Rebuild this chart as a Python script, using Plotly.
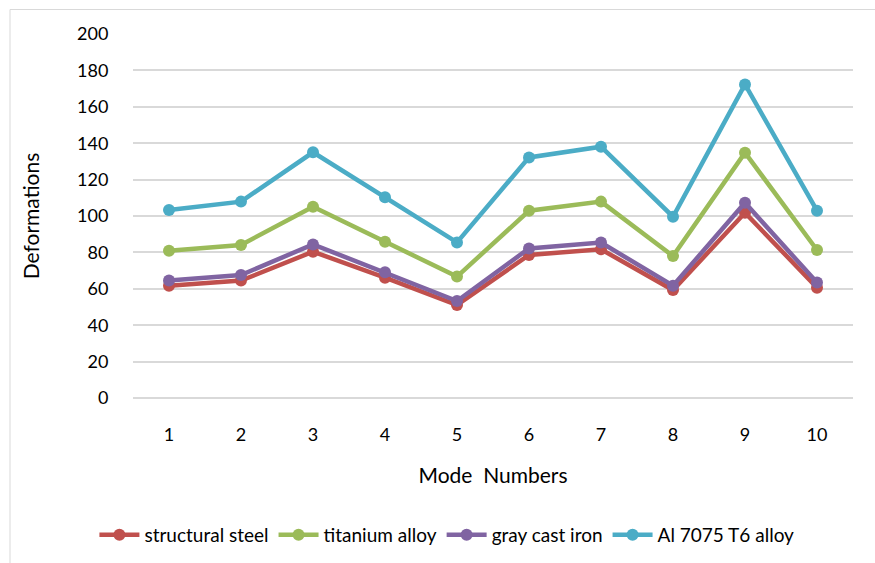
import plotly.graph_objects as go

# Mode numbers on the x axis
modes = [1, 2, 3, 4, 5, 6, 7, 8, 9, 10]

# Deformation values per material
structural_steel = [61.7, 64.5, 80.4, 66.1, 51.1, 78.6, 81.7, 59.3, 101.8, 60.6]
titanium_alloy = [80.9, 84.1, 105.1, 85.9, 66.7, 102.9, 107.9, 78.0, 134.8, 81.3]
gray_cast_iron = [64.5, 67.6, 84.4, 69.1, 53.3, 82.2, 85.4, 61.7, 107.3, 63.4]
al_7075_t6 = [103.3, 107.9, 135.0, 110.3, 85.5, 132.2, 138.1, 99.6, 172.3, 102.9]

series = [
    ("structural steel", structural_steel, "#C0504D"),
    ("titanium alloy", titanium_alloy, "#9BBB59"),
    ("gray cast iron", gray_cast_iron, "#8064A2"),
    ("Al 7075 T6 alloy", al_7075_t6, "#4BACC6"),
]

y_ticks = list(range(0, 201, 20))

FONT = "Lato, Carlito, Calibri, sans-serif"

fig = go.Figure()
for name, values, color in series:
    fig.add_trace(go.Scatter(
        x=modes, y=values, name=name, mode="lines+markers",
        line=dict(color=color, width=4.5),
        marker=dict(color=color, size=12),
    ))

fig.update_layout(
    width=875, height=563,
    margin=dict(l=133, r=22, t=34, b=165, autoexpand=False),
    paper_bgcolor="white", plot_bgcolor="white",
    font=dict(family=FONT, size=18, color="#000000"),
    showlegend=True,
    legend=dict(
        orientation="h", x=0.436, xanchor="center", y=-0.376, yanchor="middle",
        font=dict(family=FONT, size=19, color="#000000"),
        itemwidth=40, tracegroupgap=0,
    ),
    xaxis=dict(
        range=[0.5, 10.5], tickmode="array", tickvals=modes,
        ticktext=[str(m) for m in modes],
        showgrid=False, zeroline=False, showline=False,
        ticks="outside", ticklen=20, tickcolor="rgba(0,0,0,0)",
        tickfont=dict(size=18),
        title=dict(text="Mode\u00a0 Numbers", standoff=24,
                   font=dict(family=FONT, size=21)),
    ),
    yaxis=dict(
        range=[0, 200], tickmode="array", tickvals=y_ticks,
        showgrid=True, gridcolor="#D9D9D9", gridwidth=1.5,
        zeroline=True, zerolinecolor="#D9D9D9", zerolinewidth=1.5,
        showline=False,
        ticks="outside", ticklen=20, tickcolor="rgba(0,0,0,0)",
        tickfont=dict(size=18),
        title=dict(text="Deformations", standoff=31,
                   font=dict(family=FONT, size=21)),
    ),
    shapes=[dict(
        type="rect", xref="paper", yref="paper",
        x0=(10 - 133) / 720, x1=1.5, y0=-1.5, y1=(398 - 9.5) / 364,
        line=dict(color="#D9D9D9", width=1), fillcolor="rgba(0,0,0,0)",
        layer="below",
    )],
)

fig.write_html("out.html")
